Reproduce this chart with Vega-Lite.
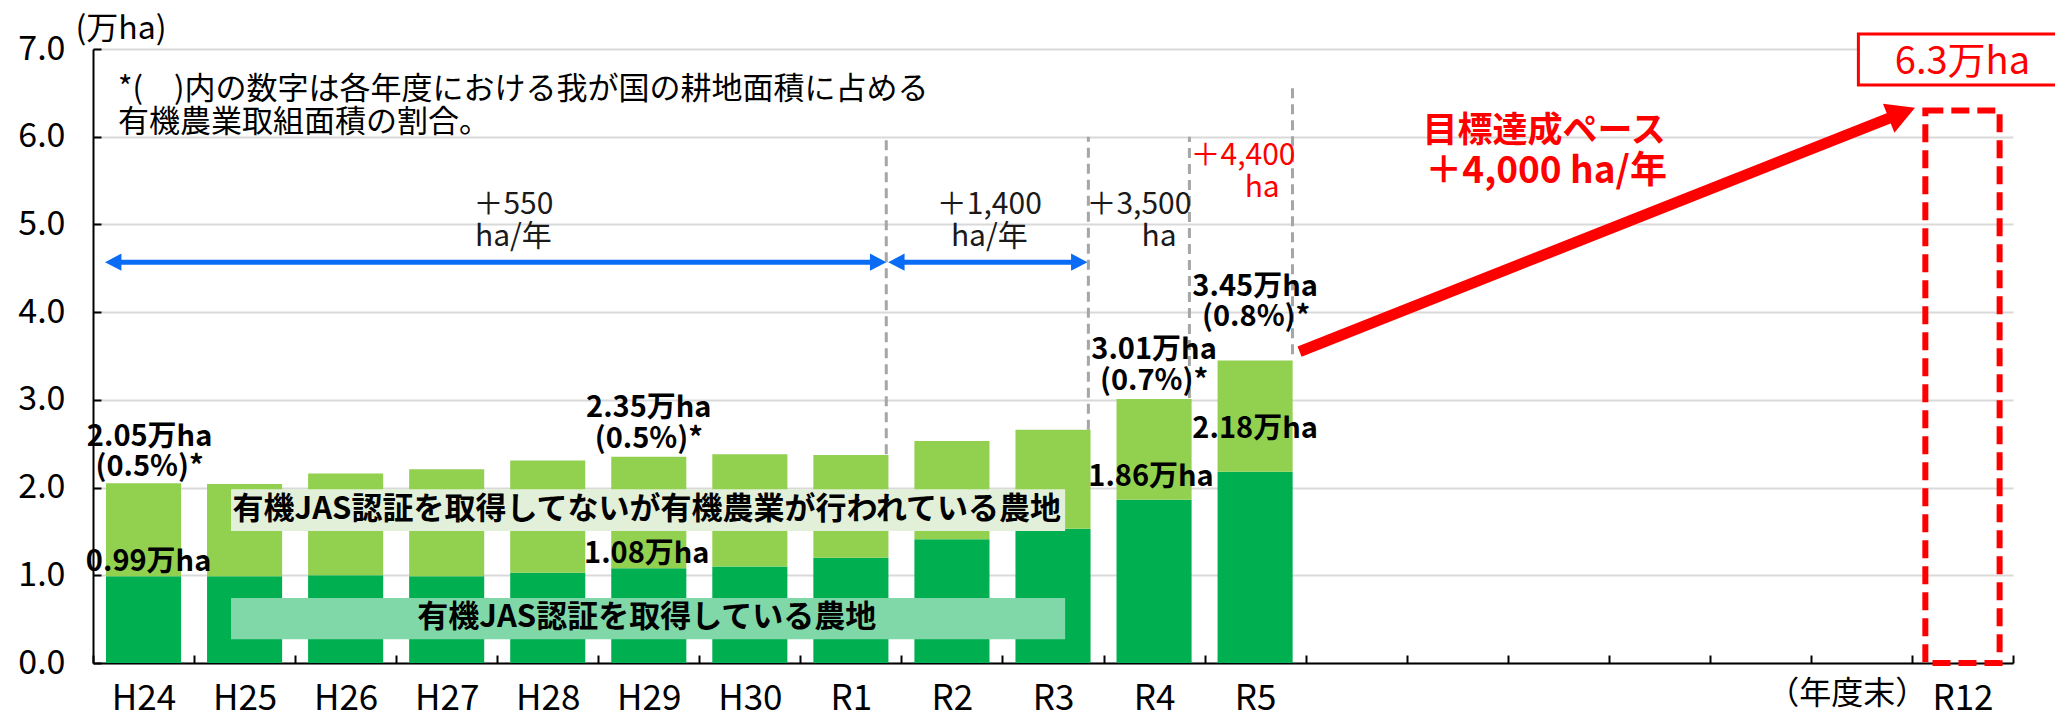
{
  "$schema": "https://vega.github.io/schema/vega-lite/v6.json",
  "width": 1920,
  "height": 614,
  "autosize": {"type": "none"},
  "padding": {"left": 93, "top": 49, "right": 42, "bottom": 48},
  "background": "#ffffff",
  "config": {"font": "Noto Sans CJK JP", "view": {"stroke": null}},
  "datasets": {
    "bars": [
      {"year": "H24", "jas": 0.99, "total": 2.05},
      {"year": "H25", "jas": 0.99, "total": 2.04},
      {"year": "H26", "jas": 1.0, "total": 2.16},
      {"year": "H27", "jas": 0.99, "total": 2.21},
      {"year": "H28", "jas": 1.03, "total": 2.31},
      {"year": "H29", "jas": 1.08, "total": 2.35},
      {"year": "H30", "jas": 1.1, "total": 2.38},
      {"year": "R1", "jas": 1.2, "total": 2.37},
      {"year": "R2", "jas": 1.41, "total": 2.53},
      {"year": "R3", "jas": 1.53, "total": 2.66},
      {"year": "R4", "jas": 1.86, "total": 3.01},
      {"year": "R5", "jas": 2.18, "total": 3.45}
    ],
    "target": [{"year": "R12", "value": 6.3}],
    "boxes": [
      {"kind": "pale", "x": 1.366, "x2": 9.62, "y": 1.505, "y2": 1.98},
      {"kind": "mint", "x": 1.366, "x2": 9.62, "y": 0.27, "y2": 0.74},
      {"kind": "label", "x": 17.47, "x2": 19.6, "y": 6.59, "y2": 7.17}
    ],
    "grayRules": [
      {"x": 7.85, "y": 2.38, "y2": 6.0},
      {"x": 9.85, "y": 2.66, "y2": 6.0},
      {"x": 10.85, "y": 3.02, "y2": 6.0},
      {"x": 11.87, "y": 3.52, "y2": 6.58}
    ],
    "blueLines": [
      {"x": 0.2, "x2": 7.78, "y": 4.57},
      {"x": 7.95, "x2": 9.77, "y": 4.57}
    ],
    "blueLeftHeads": [{"x": 0.2, "y": 4.57}, {"x": 7.95, "y": 4.57}],
    "blueRightHeads": [{"x": 7.77, "y": 4.57}, {"x": 9.76, "y": 4.57}],
    "redLine": [{"x": 11.94, "y": 3.55, "x2": 17.9, "y2": 6.27}],
    "redHead": [{"x": 17.9, "y": 6.27}],
    "noteText": [
      {"x": 0.247, "y": 6.53, "text": "*(　)内の数字は各年度における我が国の耕地面積に占める"},
      {"x": 0.247, "y": 6.16, "text": "有機農業取組面積の割合。"}
    ],
    "rateText": [
      {"x": 4.16, "y": 5.22, "text": "＋550"},
      {"x": 4.16, "y": 4.86, "text": "ha/年"},
      {"x": 8.87, "y": 5.22, "text": "＋1,400"},
      {"x": 8.87, "y": 4.86, "text": "ha/年"},
      {"x": 10.35, "y": 5.22, "text": "＋3,500"},
      {"x": 10.55, "y": 4.86, "text": "ha"}
    ],
    "rateRedText": [
      {"x": 11.38, "y": 5.78, "text": "＋4,400"},
      {"x": 11.57, "y": 5.42, "text": "ha"}
    ],
    "barText": [
      {"x": 0.56, "y": 2.58, "text": "2.05万ha"},
      {"x": 0.56, "y": 2.23, "text": "(0.5%)*"},
      {"x": 0.55, "y": 1.15, "text": "0.99万ha"},
      {"x": 5.5, "y": 2.91, "text": "2.35万ha"},
      {"x": 5.5, "y": 2.55, "text": "(0.5%)*"},
      {"x": 5.48, "y": 1.24, "text": "1.08万ha"},
      {"x": 10.5, "y": 3.57, "text": "3.01万ha"},
      {"x": 10.5, "y": 3.22, "text": "(0.7%)*"},
      {"x": 10.47, "y": 2.12, "text": "1.86万ha"},
      {"x": 11.5, "y": 4.29, "text": "3.45万ha"},
      {"x": 11.51, "y": 3.95, "text": "(0.8%)*"},
      {"x": 11.5, "y": 2.67, "text": "2.18万ha"}
    ],
    "legendText": [
      {"x": 5.48, "y": 1.745, "text": "有機JAS認証を取得してないが有機農業が行われている農地"},
      {"x": 5.48, "y": 0.51, "text": "有機JAS認証を取得している農地"}
    ],
    "goalText": [
      {"x": 14.36, "y": 6.06, "text": "目標達成ペース"}
    ],
    "goalRate": [
      {"x": 14.38, "y": 5.6, "text": "＋4,000 ha/年"}
    ],
    "targetText": [{"x": 18.5, "y": 6.84, "text": "6.3万ha"}],
    "fyText": [{"x": 17.36, "y": -0.35, "text": "（年度末）"}]
  },
  "layer": [
    {
      "layer": [
        {
          "data": {"name": "bars"},
          "mark": {"type": "bar", "width": {"band": 0.743}, "color": "#00b050"},
          "encoding": {
            "x": {
              "field": "year", "type": "nominal", "sort": null,
              "scale": {"type": "band", "domain": ["H24","H25","H26","H27","H28","H29","H30","R1","R2","R3","R4","R5","R6","R7","R8","R9","R10","R11","R12"], "paddingInner": 0, "paddingOuter": 0},
              "axis": {
                "title": null, "tickBand": "extent", "tickSize": -8, "tickColor": "#000000", "tickWidth": 2,
                "domainColor": "#000000", "domainWidth": 2, "labelAngle": 0, "labelFontSize": 35, "labelColor": "#000000",
                "labelPadding": 26, "grid": false,
                "labelExpr": "indexof(['R6','R7','R8','R9','R10','R11'], datum.value) >= 0 ? '' : datum.value"
              }
            },
            "y": {
              "field": "jas", "type": "quantitative",
              "scale": {"domain": [0, 7], "nice": false},
              "axis": {
                "title": "(万ha)", "titleAngle": 0, "titleAlign": "left", "titleBaseline": "middle", "titleX": -18, "titleY": -21,
                "titleFontSize": 32, "titleFontWeight": "normal", "titleColor": "#000000",
                "values": [0, 1, 2, 3, 4, 5, 6, 7], "format": ".1f",
                "grid": true, "gridColor": "#d9d9d9", "gridWidth": 2,
                "tickSize": -8, "tickColor": "#000000", "tickWidth": 2,
                "domainColor": "#000000", "domainWidth": 2,
                "labelFontSize": 34, "labelColor": "#000000", "labelPadding": 36
              }
            }
          }
        },
        {
          "data": {"name": "bars"},
          "mark": {"type": "bar", "width": {"band": 0.743}, "color": "#92d050"},
          "encoding": {
            "x": {"field": "year", "type": "nominal", "sort": null},
            "y": {"field": "total", "type": "quantitative"},
            "y2": {"field": "jas"}
          }
        },
        {
          "data": {"name": "target"},
          "mark": {"type": "bar", "width": {"band": 0.735}, "fill": "transparent", "stroke": "#ff0000", "strokeWidth": 6, "strokeDash": [18, 8]},
          "encoding": {
            "x": {"field": "year", "type": "nominal", "sort": null},
            "y": {"field": "value", "type": "quantitative"}
          }
        }
      ]
    },
    {
      "layer": [
        {
          "data": {"name": "boxes"},
          "transform": [{"filter": "datum.kind === 'pale'"}],
          "mark": {"type": "rect", "color": "#e2f0d9"},
          "encoding": {
            "x": {"field": "x", "type": "quantitative", "scale": {"domain": [0, 19], "nice": false, "zero": false}, "axis": null},
            "x2": {"field": "x2"},
            "y": {"field": "y", "type": "quantitative", "scale": {"domain": [0, 7], "nice": false}},
            "y2": {"field": "y2"}
          }
        },
        {
          "data": {"name": "boxes"},
          "transform": [{"filter": "datum.kind === 'mint'"}],
          "mark": {"type": "rect", "color": "#80d8a8"},
          "encoding": {
            "x": {"field": "x", "type": "quantitative"},
            "x2": {"field": "x2"},
            "y": {"field": "y", "type": "quantitative"},
            "y2": {"field": "y2"}
          }
        },
        {
          "data": {"name": "boxes"},
          "transform": [{"filter": "datum.kind === 'label'"}],
          "mark": {"type": "rect", "fill": "#ffffff", "stroke": "#ff0000", "strokeWidth": 3},
          "encoding": {
            "x": {"field": "x", "type": "quantitative"},
            "x2": {"field": "x2"},
            "y": {"field": "y", "type": "quantitative"},
            "y2": {"field": "y2"}
          }
        },
        {
          "data": {"name": "grayRules"},
          "mark": {"type": "rule", "color": "#a6a6a6", "strokeWidth": 3, "strokeDash": [10, 6]},
          "encoding": {
            "x": {"field": "x", "type": "quantitative"},
            "y": {"field": "y", "type": "quantitative"},
            "y2": {"field": "y2"}
          }
        },
        {
          "data": {"name": "blueLines"},
          "mark": {"type": "rule", "color": "#0a6cf5", "strokeWidth": 5},
          "encoding": {
            "x": {"field": "x", "type": "quantitative"},
            "x2": {"field": "x2"},
            "y": {"field": "y", "type": "quantitative"}
          }
        },
        {
          "data": {"name": "blueLeftHeads"},
          "mark": {"type": "point", "shape": "M-1,0L1,-1.05L1,1.05Z", "filled": true, "color": "#0a6cf5", "opacity": 1, "size": 270, "strokeWidth": 0},
          "encoding": {
            "x": {"field": "x", "type": "quantitative"},
            "y": {"field": "y", "type": "quantitative"}
          }
        },
        {
          "data": {"name": "blueRightHeads"},
          "mark": {"type": "point", "shape": "M1,0L-1,-1.05L-1,1.05Z", "filled": true, "color": "#0a6cf5", "opacity": 1, "size": 270, "strokeWidth": 0},
          "encoding": {
            "x": {"field": "x", "type": "quantitative"},
            "y": {"field": "y", "type": "quantitative"}
          }
        },
        {
          "data": {"name": "redLine"},
          "mark": {"type": "rule", "color": "#ff0000", "strokeWidth": 11, "strokeCap": "butt"},
          "encoding": {
            "x": {"field": "x", "type": "quantitative"},
            "x2": {"field": "x2"},
            "y": {"field": "y", "type": "quantitative"},
            "y2": {"field": "y2"}
          }
        },
        {
          "data": {"name": "redHead"},
          "mark": {"type": "point", "shape": "M1,0L-1,-1.1L-1,1.1Z", "filled": true, "color": "#ff0000", "opacity": 1, "size": 800, "angle": -21.6, "strokeWidth": 0},
          "encoding": {
            "x": {"field": "x", "type": "quantitative"},
            "y": {"field": "y", "type": "quantitative"}
          }
        },
        {
          "data": {"name": "noteText"},
          "mark": {"type": "text", "align": "left", "baseline": "middle", "fontSize": 31, "color": "#000000"},
          "encoding": {
            "x": {"field": "x", "type": "quantitative"},
            "y": {"field": "y", "type": "quantitative"},
            "text": {"field": "text"}
          }
        },
        {
          "data": {"name": "rateText"},
          "mark": {"type": "text", "align": "center", "baseline": "middle", "fontSize": 30, "color": "#1a1a1a"},
          "encoding": {
            "x": {"field": "x", "type": "quantitative"},
            "y": {"field": "y", "type": "quantitative"},
            "text": {"field": "text"}
          }
        },
        {
          "data": {"name": "rateRedText"},
          "mark": {"type": "text", "align": "center", "baseline": "middle", "fontSize": 30, "color": "#ff0000"},
          "encoding": {
            "x": {"field": "x", "type": "quantitative"},
            "y": {"field": "y", "type": "quantitative"},
            "text": {"field": "text"}
          }
        },
        {
          "data": {"name": "barText"},
          "mark": {"type": "text", "align": "center", "baseline": "middle", "fontSize": 29, "fontWeight": "bold", "color": "#000000"},
          "encoding": {
            "x": {"field": "x", "type": "quantitative"},
            "y": {"field": "y", "type": "quantitative"},
            "text": {"field": "text"}
          }
        },
        {
          "data": {"name": "legendText"},
          "mark": {"type": "text", "align": "center", "baseline": "middle", "fontSize": 31, "fontWeight": "bold", "color": "#000000"},
          "encoding": {
            "x": {"field": "x", "type": "quantitative"},
            "y": {"field": "y", "type": "quantitative"},
            "text": {"field": "text"}
          }
        },
        {
          "data": {"name": "goalText"},
          "mark": {"type": "text", "align": "center", "baseline": "middle", "fontSize": 35, "fontWeight": "bold", "color": "#ff0000"},
          "encoding": {
            "x": {"field": "x", "type": "quantitative"},
            "y": {"field": "y", "type": "quantitative"},
            "text": {"field": "text"}
          }
        },
        {
          "data": {"name": "goalRate"},
          "mark": {"type": "text", "align": "center", "baseline": "middle", "fontSize": 37, "fontWeight": "bold", "color": "#ff0000"},
          "encoding": {
            "x": {"field": "x", "type": "quantitative"},
            "y": {"field": "y", "type": "quantitative"},
            "text": {"field": "text"}
          }
        },
        {
          "data": {"name": "targetText"},
          "mark": {"type": "text", "align": "center", "baseline": "middle", "fontSize": 38, "color": "#ff0000"},
          "encoding": {
            "x": {"field": "x", "type": "quantitative"},
            "y": {"field": "y", "type": "quantitative"},
            "text": {"field": "text"}
          }
        },
        {
          "data": {"name": "fyText"},
          "mark": {"type": "text", "align": "center", "baseline": "middle", "fontSize": 32, "color": "#000000"},
          "encoding": {
            "x": {"field": "x", "type": "quantitative"},
            "y": {"field": "y", "type": "quantitative"},
            "text": {"field": "text"}
          }
        }
      ]
    }
  ],
  "resolve": {"scale": {"x": "independent"}}
}
